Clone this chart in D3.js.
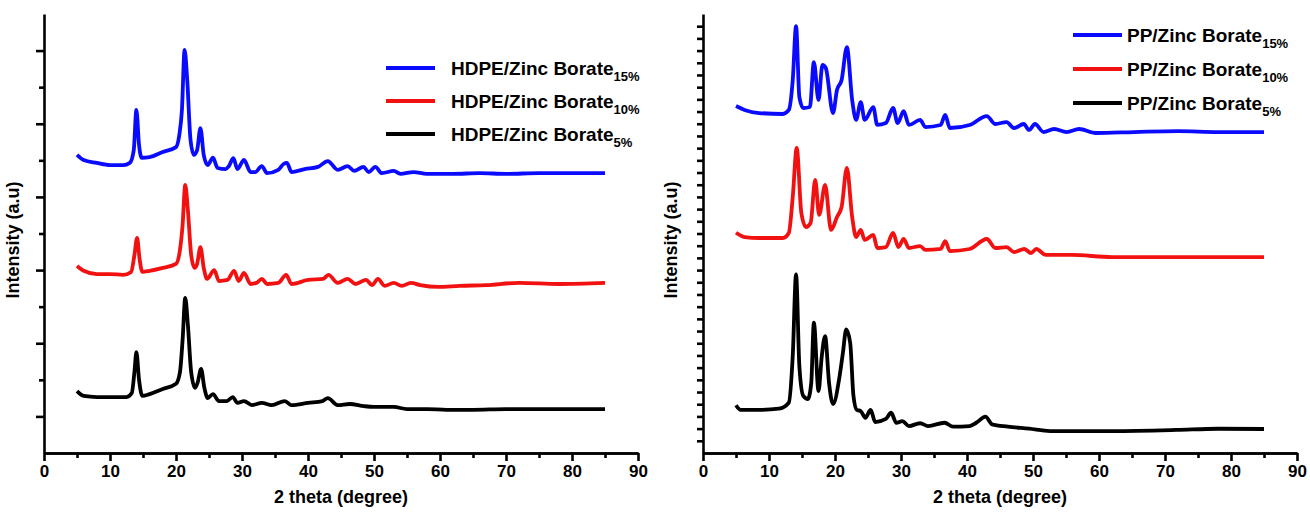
<!DOCTYPE html>
<html>
<head>
<meta charset="utf-8">
<script src="https://cdn.jsdelivr.net/npm/d3@7"></script>
<style>
  body { margin: 0; background: #fff; }
  svg { display: block; font-family: "Liberation Sans", Arial, sans-serif; }
</style>
</head>
<body>
<div id="chart"></div>
<script>
// ---------- data: [2 theta, intensity a.u.] ----------
var xTickValues = [0, 10, 20, 30, 40, 50, 60, 70, 80, 90];

var hdpeLabels = ["HDPE/Zinc Borate", "HDPE/Zinc Borate", "HDPE/Zinc Borate"];
var ppLabels = ["PP/Zinc Borate", "PP/Zinc Borate", "PP/Zinc Borate"];
var loadings = ["15%", "10%", "5%"];
var seriesColors = ["#0a0aff", "#f21111", "#000000"];

var hdpe15 = [
  [5, 815], [6, 801], [8, 793], [10, 787], [12, 787], [13, 793], [13.6, 828], [14.0, 938],
  [14.4, 842], [14.8, 807], [16, 809], [18, 823], [20, 836], [20.5, 869], [20.9, 938],
  [21.3, 1102], [21.7, 1020], [22.2, 856], [22.7, 815], [23.2, 828], [23.7, 888], [24.2, 815],
  [24.8, 787], [25.6, 807], [26.3, 779], [27.5, 776], [28.0, 784], [28.7, 806], [29.3, 776],
  [30.3, 801], [31.3, 768], [32.0, 768], [33.0, 784], [33.8, 765], [35.5, 774], [36.3, 790],
  [36.8, 793], [37.5, 768], [39.5, 776], [41.5, 782], [43.0, 798], [44.5, 774], [46.0, 784],
  [47.0, 771], [48.4, 782], [49.2, 768], [50.2, 782], [51.2, 765], [53.0, 771], [54.0, 763],
  [56.0, 768], [58.0, 763], [62, 763], [66, 765], [70, 763], [75, 765], [80, 765], [85, 765]
];

var hdpe10 = [
  [5, 511], [6, 498], [8, 489], [10, 489], [12, 487], [13.2, 495], [13.7, 541], [14.1, 588],
  [14.5, 528], [14.9, 495], [16, 498], [18, 506], [20, 517], [20.6, 555], [21.0, 623],
  [21.4, 733], [21.8, 664], [22.3, 541], [22.8, 506], [23.2, 517], [23.7, 563], [24.2, 506],
  [24.7, 476], [25.8, 500], [26.5, 470], [27.8, 473], [28.8, 498], [29.5, 470], [30.3, 492],
  [31.3, 462], [32.2, 465], [33.0, 476], [33.8, 462], [35.5, 465], [36.7, 487], [37.5, 462],
  [40, 473], [42.3, 476], [43.1, 487], [44.5, 465], [46.0, 476], [47.2, 462], [48.8, 473],
  [49.7, 459], [50.6, 476], [51.6, 457], [53.0, 465], [54.2, 457], [55.6, 465], [57, 459],
  [59.7, 454], [63, 457], [67, 459], [72, 465], [78, 462], [85, 465]
];

var hdpe5 = [
  [5, 169], [6, 156], [8, 153], [10, 153], [12.5, 153], [13.3, 164], [13.7, 221], [14.0, 276],
  [14.4, 200], [14.9, 156], [16, 161], [18, 175], [20, 189], [20.6, 221], [21.0, 309],
  [21.4, 424], [21.8, 350], [22.3, 221], [22.9, 178], [23.3, 194], [23.8, 230], [24.3, 178],
  [24.8, 150], [25.6, 161], [26.5, 142], [27.7, 142], [28.6, 153], [29.3, 137], [30.3, 142],
  [31.5, 131], [33.0, 137], [34.5, 131], [36.5, 142], [37.5, 131], [40, 137], [42.2, 142],
  [43.0, 150], [44.5, 131], [46.3, 134], [48.5, 128], [50, 126], [53, 126], [55, 120],
  [58, 120], [61, 118], [65, 118], [70, 120], [75, 120], [80, 120], [85, 120]
];

var pp15 = [
  [5, 2845], [6.3, 2813], [8.5, 2788], [12.1, 2780], [13.0, 2813], [13.6, 3059], [14.1, 3501],
  [14.6, 2919], [15.2, 2829], [16.2, 2837], [16.8, 3206], [17.5, 2895], [18.1, 3182],
  [18.6, 3157], [19.7, 2788], [20.3, 2977], [21.0, 3059], [21.8, 3329], [22.6, 2895],
  [23.2, 2731], [23.9, 2878], [24.5, 2731], [25.8, 2837], [26.4, 2690], [27.7, 2706],
  [28.8, 2829], [29.5, 2706], [30.4, 2804], [31.2, 2690], [32.9, 2731], [33.7, 2673],
  [36.0, 2690], [36.7, 2772], [37.4, 2665], [40.4, 2690], [43.0, 2763], [44.3, 2698],
  [46.0, 2714], [47.1, 2665], [48.6, 2698], [49.4, 2649], [50.3, 2698], [51.6, 2632],
  [53.2, 2657], [55.1, 2632], [57.0, 2657], [59.5, 2624], [65.3, 2632], [72.0, 2640],
  [78, 2632], [85, 2632]
];

var pp10 = [
  [5, 1806], [6.3, 1771], [8.5, 1763], [12.1, 1763], [13.0, 1804], [13.6, 2100], [14.2, 2501],
  [14.9, 1968], [15.6, 1853], [16.3, 1886], [17.0, 2239], [17.6, 1952], [18.5, 2198],
  [19.4, 1829], [20.3, 1935], [21.0, 2017], [21.8, 2337], [22.6, 1935], [23.2, 1771],
  [23.9, 1829], [24.5, 1747], [25.8, 1788], [26.4, 1681], [27.7, 1689], [28.8, 1804],
  [29.6, 1689], [30.4, 1755], [31.2, 1681], [32.9, 1697], [33.7, 1665], [36.0, 1673],
  [36.7, 1738], [37.4, 1656], [40.4, 1673], [43.0, 1755], [44.3, 1681], [46.0, 1689],
  [47.1, 1648], [48.7, 1673], [49.7, 1640], [50.5, 1673], [51.9, 1624], [55.8, 1624],
  [62, 1607], [75, 1607], [85, 1607]
];

var pp5 = [
  [5, 391], [5.7, 353], [8.5, 353], [11.5, 363], [13.0, 412], [13.6, 800], [14.1, 1465],
  [14.6, 713], [15.2, 467], [15.9, 443], [16.4, 574], [16.8, 1068], [17.5, 508], [18.0, 795],
  [18.5, 959], [19.1, 574], [19.7, 402], [20.7, 631], [21.2, 822], [21.7, 1014], [22.3, 904],
  [22.8, 467], [23.3, 353], [23.9, 344], [24.6, 289], [25.4, 353], [26.1, 254], [27.7, 279],
  [28.5, 330], [29.3, 248], [30.2, 262], [31.2, 221], [32.9, 244], [34.1, 221], [36.6, 248],
  [37.9, 216], [40.4, 221], [41.4, 248], [42.8, 298], [43.8, 235], [46.2, 216], [49.4, 199],
  [52.6, 180], [55.8, 180], [62, 180], [71.7, 189], [78, 199], [85, 197]
];

// ---------- layout ----------
var svgWidth = 1310;
var svgHeight = 512;

var panels = [
  { x0: 44, x1: 638, yMax: 1200, yStep: 100, series: [hdpe15, hdpe10, hdpe5], labels: hdpeLabels,
    legendX: 386, legendY: 68, legendGap: 33, legendLen: 49, textGap: 16, ylabelX: 19 },
  { x0: 703, x1: 1297, yMax: 3600, yStep: 100, series: [pp15, pp10, pp5], labels: ppLabels,
    legendX: 1073, legendY: 35, legendGap: 34, legendLen: 49, textGap: 5, ylabelX: 677 }
];
var yTop = 14;
var yBottom = 453;

var svg = d3.select("#chart")
  .append("svg")
  .attr("width", svgWidth)
  .attr("height", svgHeight);

panels.forEach(function(p, pi) {

  var xScale = d3.scaleLinear().domain([0, 90]).range([p.x0, p.x1]);
  var yScale = d3.scaleLinear().domain([0, p.yMax]).range([yBottom, yTop]);

  var g = svg.append("g");

  // curves
  var line = d3.line()
    .x(d => xScale(d[0]))
    .y(d => yScale(d[1]))
    .curve(d3.curveMonotoneX);

  p.series.forEach(function(s, i) {
    g.append("path")
      .datum(s)
      .attr("d", line)
      .attr("fill", "none")
      .attr("stroke", seriesColors[i])
      .attr("stroke-width", 3.8)
      .attr("stroke-linejoin", "round");
  });

  // x axis: major + minor ticks
  var xMinor = d3.axisBottom(xScale)
    .tickValues(d3.range(5, 90, 10))
    .tickSize(5)
    .tickSizeOuter(0)
    .tickFormat("");
  var xMajor = d3.axisBottom(xScale)
    .tickValues(xTickValues)
    .tickSize(8)
    .tickSizeOuter(0)
    .tickPadding(4);

  var gxm = g.append("g").attr("transform", `translate(0, ${yBottom})`).call(xMinor);
  var gx = g.append("g").attr("transform", `translate(0, ${yBottom})`).call(xMajor);

  // y axis (no labels)
  var yVals = d3.range(p.yStep, p.yMax, p.yStep);
  var yAxis = d3.axisLeft(yScale)
    .tickValues(yVals)
    .tickSizeOuter(0)
    .tickFormat("");
  var gy = g.append("g").attr("transform", `translate(${p.x0}, 0)`).call(yAxis);

  gy.selectAll(".tick line").attr("x2", function(d) {
    if (pi === 0) return (d / p.yStep) % 2 === 1 ? -8 : -5;
    return -6;
  });

  [gx, gxm, gy].forEach(function(a) {
    a.select(".domain").attr("stroke", "#000").attr("stroke-width", 2.6);
    a.selectAll(".tick line").attr("stroke", "#000").attr("stroke-width", 2.6);
  });

  gx.selectAll(".tick text")
    .attr("font-size", "17px")
    .attr("font-weight", "bold")
    .attr("fill", "#000")
    .attr("font-family", "Liberation Sans, Arial, sans-serif");

  // axis titles
  g.append("text")
    .attr("x", (p.x0 + p.x1) / 2)
    .attr("y", 503)
    .attr("text-anchor", "middle")
    .attr("font-size", "18px")
    .attr("font-weight", "bold")
    .text("2 theta (degree)");

  g.append("text")
    .attr("transform", `translate(${p.ylabelX}, 240) rotate(-90)`)
    .attr("text-anchor", "middle")
    .attr("font-size", "18px")
    .attr("font-weight", "bold")
    .text("Intensity (a.u)");

  // legend
  p.labels.forEach(function(lab, i) {
    var ly = p.legendY + i * p.legendGap;
    g.append("line")
      .attr("x1", p.legendX)
      .attr("x2", p.legendX + p.legendLen)
      .attr("y1", ly)
      .attr("y2", ly)
      .attr("stroke", seriesColors[i])
      .attr("stroke-width", 4);

    var t = g.append("text")
      .attr("x", p.legendX + p.legendLen + p.textGap)
      .attr("y", ly + 7)
      .attr("font-size", "19px")
      .attr("font-weight", "bold");
    t.append("tspan").text(lab);
    t.append("tspan")
      .attr("dy", 6)
      .attr("font-size", "13px")
      .text(loadings[i]);
  });
});
</script>
</body>
</html>
